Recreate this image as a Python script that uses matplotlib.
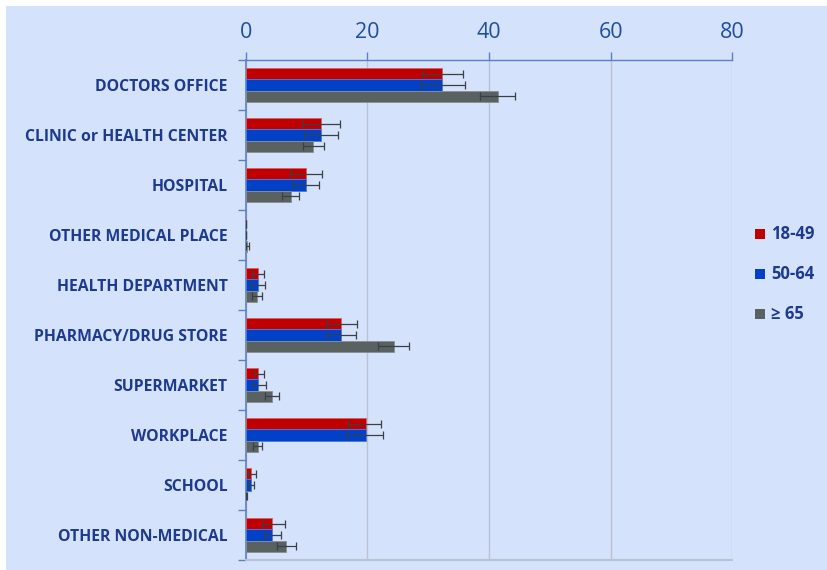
import matplotlib
matplotlib.use("Agg")
import matplotlib.pyplot as plt
import numpy as np
from matplotlib.patches import Rectangle

categories = ["DOCTORS OFFICE", "CLINIC or HEALTH CENTER", "HOSPITAL",
              "OTHER MEDICAL PLACE", "HEALTH DEPARTMENT", "PHARMACY/DRUG STORE",
              "SUPERMARKET", "WORKPLACE", "SCHOOL", "OTHER NON-MEDICAL"]
series_names = ["18-49", "50-64", "\u2265 65"]

v_18_49 = [32.3, 12.3, 9.9, 0.05, 2.0, 15.7, 2.1, 19.7, 0.9, 4.4]
lo_18_49 = [29.0, 9.3, 7.3, 0.0, 1.0, 13.2, 1.6, 16.9, 0.3, 2.6]
hi_18_49 = [35.8, 15.5, 12.5, 0.1, 3.0, 18.3, 3.0, 22.3, 1.7, 6.4]

v_50_64 = [32.3, 12.3, 9.9, 0.05, 2.0, 15.7, 2.1, 19.7, 0.8, 4.4]
lo_50_64 = [28.9, 9.8, 7.6, 0.0, 0.9, 13.4, 1.25, 16.7, 0.3, 3.2]
hi_50_64 = [36.0, 15.1, 12.1, 0.1, 3.1, 18.1, 3.3, 22.6, 1.4, 5.8]

v_65 = [41.4, 11.1, 7.4, 0.2, 1.9, 24.3, 4.4, 2.0, 0.1, 6.7]
lo_65 = [38.5, 9.5, 6.0, 0.1, 1.1, 21.8, 3.2, 1.25, 0.05, 5.2]
hi_65 = [44.3, 12.9, 8.7, 0.5, 2.7, 26.9, 5.5, 2.7, 0.2, 8.3]

xticks = [0, 20, 40, 60, 80]

colors = ["#C00000", "#0041C8", "#5A6161"]
edge_colors = ["#D86060", "#4A78E0", "#8A9090"]
bg = "#D5E2FB"
navy = "#1C3A8E"
tick_blue = "#1F4E9F"
spine_blue = "#5B7FC8"
grid_gray = "#B9C1D2"

fig = plt.figure(figsize=(8.28, 5.70), dpi=100)
fig.patch.set_facecolor("white")
fig.patches.append(Rectangle((6 / 828, 0), 1 - 6 / 828, 1 - 6 / 570,
                             transform=fig.transFigure, facecolor=bg,
                             edgecolor="none", zorder=-10))

ax = fig.add_axes([245.7 / 828, 1 - 560 / 570, (732.3 - 245.7) / 828, 500 / 570])
ax.set_facecolor(bg)

y = np.arange(len(categories))
h = 0.222
data = [(v_18_49, lo_18_49, hi_18_49), (v_50_64, lo_50_64, hi_50_64), (v_65, lo_65, hi_65)]
for i, (vals, lo, hi) in enumerate(data):
    vals = np.array(vals)
    xerr = np.vstack([vals - np.array(lo), np.array(hi) - vals])
    xerr = np.clip(xerr, 0, None)
    ax.barh(y + (i - 1) * h, vals, height=h, color=colors[i],
            edgecolor=edge_colors[i], linewidth=0.6, zorder=3,
            label=series_names[i])
    ax.errorbar(vals, y + (i - 1) * h, xerr=xerr, fmt="none",
                ecolor="#3A3F45", elinewidth=0.9, capsize=3, capthick=0.9,
                zorder=4)

ax.set_xlim(0, 80)
ax.set_ylim(len(categories) - 0.5, -0.5)
ax.xaxis.tick_top()
ax.set_xticks(xticks)
ax.set_xticklabels([str(t) for t in xticks], fontsize=15.5, color=tick_blue,
                   family=["Open Sans", "DejaVu Sans"])
ax.tick_params(axis="x", which="major", direction="out", length=6,
               color=spine_blue, width=1.0, pad=6.5)
ax.grid(axis="x", color=grid_gray, linewidth=1.0, zorder=0)

ax.set_yticks(y)
ax.set_yticklabels(categories, fontsize=11.3, fontweight="bold", color=navy,
                   family=["Open Sans", "DejaVu Sans"])
ax.tick_params(axis="y", which="major", length=0, pad=13)
ax.set_yticks(np.arange(-0.5, len(categories) + 0.5, 1), minor=True)
ax.tick_params(axis="y", which="minor", direction="out", length=6,
               color=spine_blue, width=1.0)

ax.spines["top"].set_color(spine_blue)
ax.spines["left"].set_color(spine_blue)
ax.spines["top"].set_linewidth(1.0)
ax.spines["left"].set_linewidth(1.2)
ax.spines["right"].set_visible(False)
ax.spines["bottom"].set_color(grid_gray)
ax.spines["bottom"].set_linewidth(1.5)

# legend
leg_y = [234, 274, 314]
for i, name in enumerate(series_names):
    yy = 1 - leg_y[i] / 570
    fig.patches.append(Rectangle((755 / 828, yy - 5 / 570), 10 / 828, 10 / 570,
                                 transform=fig.transFigure, facecolor=colors[i],
                                 edgecolor="none"))
    fig.text(771 / 828, yy, name, fontsize=12, fontweight="bold", color=navy,
             va="center", ha="left", family=["Open Sans", "DejaVu Sans"])

fig.savefig("out.png", dpi=100, facecolor=fig.get_facecolor())
